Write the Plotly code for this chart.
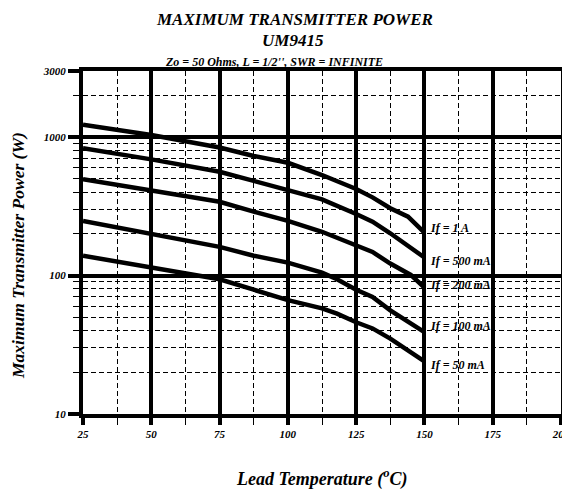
import plotly.graph_objects as go
import numpy as np

# ---- data ----
temp_c = [25, 50, 75, 87.5, 100, 112.5, 125, 131, 137.5, 144, 150]
p_1a = [1230, 1035, 840, 730, 652, 532, 422, 367, 306, 266, 204]
temp_c2 = [25, 50, 75, 87.5, 100, 112.5, 125, 131, 137.5, 142, 150]
p_500ma = [829, 690, 562, 483, 414, 355, 278, 245, 202, 176, 135]
temp_c3 = [25, 50, 75, 87.5, 100, 112.5, 125, 131, 137.5, 145, 150]
p_200ma = [497, 408, 341, 289, 248, 207, 166, 148, 122, 101, 82]
temp_c4 = [25, 50, 75, 87.5, 100, 112.5, 118, 125, 131, 137.5, 150]
p_100ma = [248, 199, 161, 139, 124, 105, 94, 79, 70, 56, 39]
temp_c5 = [25, 50, 75, 87.5, 100, 112.5, 118, 125, 131, 137.5, 150]
p_50ma = [139, 115, 94, 79, 66.5, 58, 53, 46, 41.5, 35, 24]

series = [
    ("If = 1 A", temp_c, p_1a, 220),
    ("If = 500 mA", temp_c2, p_500ma, 127),
    ("If = 200 mA", temp_c3, p_200ma, 85),
    ("If = 100 mA", temp_c4, p_100ma, 43),
    ("If = 50 mA", temp_c5, p_50ma, 22.6),
]

x_ticks = [25, 50, 75, 100, 125, 150, 175, 200]
x_minor = [37.5, 62.5, 87.5, 112.5, 137.5, 162.5, 187.5]
y_ticks = [10, 100, 1000, 3000]
y_minor = [20, 30, 40, 50, 60, 70, 80, 90, 200, 300, 400, 500, 600, 700, 800, 900, 2000]

FONT = "Liberation Serif"
OFF = 8  # default browser body margin

fig = go.Figure()
for name, xs, ys, ly in series:
    fig.add_trace(go.Scatter(x=xs, y=ys, mode="lines", name=name,
                             line=dict(color="black", width=4.5), showlegend=False))
    fig.add_annotation(x=151.2, y=np.log10(ly), text=name, showarrow=False,
                       xanchor="left", yanchor="middle",
                       font=dict(family=FONT, size=12, color="black", weight="bold", style="italic"))

tickfont = dict(family=FONT, size=11, color="black", weight="bold", style="italic")

fig.update_xaxes(range=[25, 200], tickvals=x_ticks, ticks="outside", ticklen=7, tickwidth=4,
                 tickcolor="black", showgrid=True, gridcolor="black", gridwidth=4,
                 showline=True, linecolor="black", linewidth=4, mirror=True, zeroline=False,
                 tickfont=tickfont, automargin=False,
                 minor=dict(tickvals=x_minor, ticks="outside", ticklen=7, tickwidth=1,
                            tickcolor="black", showgrid=True, gridcolor="black", gridwidth=1,
                            griddash="5px,3px"))
fig.update_yaxes(type="log", range=[1, np.log10(3000)], tickvals=y_ticks,
                 ticktext=[str(v) for v in y_ticks],
                 ticks="outside", ticklen=11, tickwidth=4,
                 tickcolor="black", showgrid=True, gridcolor="black", gridwidth=4,
                 showline=True, linecolor="black", linewidth=4, mirror=True, zeroline=False,
                 tickfont=tickfont, automargin=False,
                 minor=dict(tickvals=y_minor, ticks="outside", ticklen=6, tickwidth=1,
                            tickcolor="black", showgrid=True, gridcolor="black", gridwidth=1,
                            griddash="5px,3px"))

W, H = 570 - OFF, 489 - OFF
L, T = 83 - OFF, 71 - OFF
PR, PB = 561 - OFF, 414 - OFF
R, B = W - PR, H - PB
pw, ph = PR - L, PB - T

def px(xp):
    return (xp - OFF - L) / pw

def py(yp):
    return (PB - (yp - OFF)) / ph

def ann(text, xp, yp, size, angle=0):
    fig.add_annotation(x=px(xp), y=py(yp), xref="paper", yref="paper", text=text,
                       showarrow=False, xanchor="center", yanchor="middle", textangle=angle,
                       font=dict(family=FONT, size=size, color="black", weight="bold", style="italic"))

ann("MAXIMUM TRANSMITTER POWER", 294, 19, 17)
ann("UM9415", 293, 40, 17)
ann("Zo = 50 Ohms, L = 1/2'', SWR = INFINITE", 274, 62, 12)
ann("Lead Temperature (<sup>o</sup>C)", 322, 478, 18)
ann("Maximum Transmitter Power (W)", 18, 256, 17.5, angle=-90)

fig.update_layout(width=W, height=H, margin=dict(l=L, r=R, t=T, b=B, autoexpand=False),
                  paper_bgcolor="white", plot_bgcolor="white")
fig.write_html("out.html", config={"displayModeBar": False})
